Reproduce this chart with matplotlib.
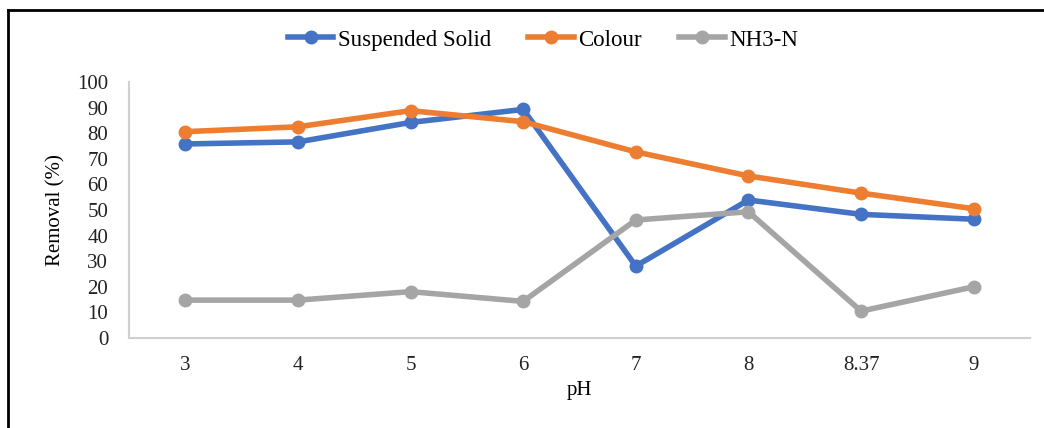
import matplotlib
matplotlib.use("Agg")
import matplotlib.pyplot as plt
from matplotlib.lines import Line2D

ph_labels = ["3", "4", "5", "6", "7", "8", "8.37", "9"]
suspended_solid = [75.8, 76.6, 84.2, 89.3, 28.1, 53.9, 48.3, 46.4]
colour = [80.6, 82.5, 88.8, 84.5, 72.7, 63.3, 56.6, 50.5]
nh3_n = [14.8, 14.8, 18.1, 14.3, 46.1, 49.3, 10.5, 20.0]

plt.rcParams['font.family'] = ['Liberation Serif', 'DejaVu Serif']

W, H = 1044, 428
fig = plt.figure(figsize=(W / 100, H / 100), dpi=100)
ax = fig.add_axes([129 / W, (H - 338) / H, (1030 - 129) / W, (338 - 82) / H])

x = range(len(ph_labels))
ax.plot(x, suspended_solid, color="#4472C4", lw=4, marker="o", ms=9, label="Suspended Solid")
ax.plot(x, colour, color="#ED7D31", lw=4, marker="o", ms=9, label="Colour")
ax.plot(x, nh3_n, color="#A5A5A5", lw=4, marker="o", ms=9, label="NH3-N")

ax.set_xlim(-0.5, len(ph_labels) - 0.5)
ax.set_ylim(0, 100)
ax.set_yticks(range(0, 101, 10))
ax.set_xticks(list(x))
ax.set_xticklabels(ph_labels)
ax.tick_params(length=0, labelsize=15, colors="#222222")
ax.tick_params(axis="x", pad=13)
ax.tick_params(axis="y", pad=15)

for s in ["top", "right"]:
    ax.spines[s].set_visible(False)
for s in ["left", "bottom"]:
    ax.spines[s].set_color("#D0D0D0")
    ax.spines[s].set_linewidth(1.5)

ax.set_xlabel("pH", fontsize=15, labelpad=4)
ax.set_ylabel("Removal (%)", fontsize=15, labelpad=8)

fig.legend(loc="center", bbox_to_anchor=(0.52, (H - 40) / H), ncol=3, frameon=False,
           fontsize=16.5, handlelength=2.0, columnspacing=1.6, handletextpad=0.2)

# outer frame (only top and left visible in the crop)
fig.add_artist(Line2D([8 / W, 1.0], [(H - 10) / H, (H - 10) / H], color="black", lw=2))
fig.add_artist(Line2D([8 / W, 8 / W], [0, (H - 10) / H], color="black", lw=2))

fig.savefig("out.png", dpi=100)
